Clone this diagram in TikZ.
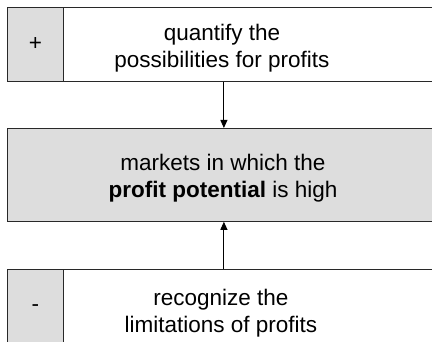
\documentclass[tikz,border=0pt]{standalone}
\usepackage{fontspec}
\setmainfont{Liberation Sans}
\usetikzlibrary{arrows.meta, positioning}
\definecolor{boxgray}{RGB}{221,221,221}
\definecolor{framegray}{RGB}{40,40,40}
\tikzset{
    rowbox/.style={rectangle, draw=framegray, fill=#1, line width=0.8pt, inner sep=0pt, anchor=north west},
    signbox/.style={rectangle, draw=framegray, fill=boxgray, line width=0.8pt, minimum width=56pt, minimum height=#1, inner sep=0pt, anchor=north west, font=\fontsize{22.5}{27}\selectfont},
    rowtext/.style={align=center, inner sep=0pt, font=\fontsize{22.5}{27}\selectfont},
    flowarrow/.style={-{Triangle[length=8pt, width=7pt]}, line width=0.9pt, black}
}

\begin{document}
\begin{tikzpicture}[x=1pt, y=-1pt]
\useasboundingbox (0,0) rectangle (432,342);
\clip (0,0) rectangle (432,342);

% upper row
\node[rowbox=white, minimum width=377pt, minimum height=74pt] (quant) at (63,7) {};
\node[signbox=74pt] (plus) at (7,7) {+};
\node[rowtext] (quanttext) at (222,47.8) {quantify the\\possibilities for profits};

% centre
\node[rowbox=boxgray, minimum width=433pt, minimum height=93pt] (mkt) at (7,128) {};
\node[rowtext] (mkttext) at (223,177.8) {markets in which the\\\textbf{profit potential} is high};

% lower row
\node[rowbox=white, minimum width=377pt, minimum height=78pt] (limit) at (63,269) {};
\node[signbox=78pt] (minus) at (7,269) {-};
\node[rowtext] (limittext) at (221,312.8) {recognize the\\limitations of profits};

\draw[flowarrow] (quant.south -| mkt.north) -- (mkt.north);
\draw[flowarrow] (limit.north -| mkt.south) -- (mkt.south);

\end{tikzpicture}
\end{document}
